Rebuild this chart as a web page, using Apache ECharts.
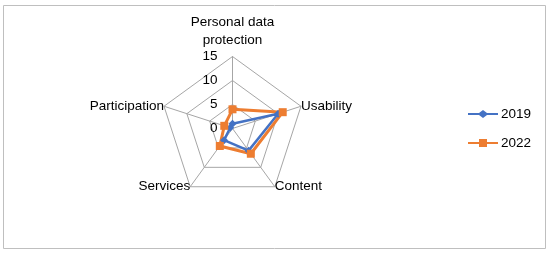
<!DOCTYPE html>
<html>
<head>
<meta charset="utf-8">
<script src="https://cdn.jsdelivr.net/npm/echarts@6/dist/echarts.min.js"></script>
<style>
html,body{margin:0;padding:0;background:#fff;}
#chart{width:550px;height:254px;}
</style>
</head>
<body>
<div id="chart"></div>
<script>
// Categories in clockwise order starting at the top
const indicators = ['Personal data\nprotection', 'Usability', 'Content', 'Services', 'Participation'];
const seriesNames = ['2019', '2022'];
const values2019 = [1, 10, 5.7, 3, 0.5];
const values2022 = [4, 11, 6.5, 4.5, 1.8];
const axisMax = 15;
const tickStep = 5;

const FONT = '"Liberation Sans", Arial, sans-serif';
const BLUE = '#4472C4';
const ORANGE = '#ED7D31';

// ECharts radar runs counter-clockwise; reorder so the categories run clockwise like the reference
const order = [0, 4, 3, 2, 1];
const ord = arr => order.map(i => arr[i]);

const diamondIcon = 'path://M0,3 L11,3 L15,0 L19,3 L30,3 L30,5 L19,5 L15,8 L11,5 L0,5 Z';
const squareIcon = 'path://M0,3 L11,3 L11,0 L19,0 L19,3 L30,3 L30,5 L19,5 L19,8 L11,8 L11,5 L0,5 Z';

const chart = echarts.init(document.getElementById('chart'), null, {renderer: 'canvas'});
chart.setOption({
  animation: false,
  backgroundColor: '#fff',
  graphic: [{
    type: 'rect',
    shape: {x: 3.5, y: 5.5, width: 542, height: 243},
    style: {fill: 'none', stroke: '#BFBFBF', lineWidth: 1},
    silent: true,
    z: -10
  }],
  legend: {
    orient: 'vertical',
    left: 463,
    top: 102,
    itemWidth: 30,
    itemHeight: 8,
    itemGap: 15,
    textStyle: {fontFamily: FONT, fontSize: 13.5, color: '#000', padding: [0, 0, 0, -2]},
    itemStyle: {borderWidth: 0},
    data: [
      {name: seriesNames[0], icon: diamondIcon},
      {name: seriesNames[1], icon: squareIcon}
    ]
  },
  radar: {
    center: [232.5, 128.5],
    radius: 72,
    startAngle: 90,
    shape: 'polygon',
    splitNumber: axisMax / tickStep,
    nameGap: 0,
    axisName: {fontFamily: FONT, fontSize: 13.5, color: '#000', lineHeight: 18},
    axisLine: {lineStyle: {color: '#A6A6A6', width: 1}},
    splitLine: {lineStyle: {color: '#A6A6A6', width: 1}},
    splitArea: {show: false},
    axisTick: {show: false},
    axisLabel: {show: false},
    indicator: ord(indicators).map((n, i) => {
      const o = {name: n, max: axisMax, min: 0};
      if (i === 0) {
        o.axisLabel = {show: true, fontFamily: FONT, fontSize: 13.5, color: '#000', margin: 15, showMinLabel: true, showMaxLabel: true};
      }
      return o;
    })
  },
  series: [{
    type: 'radar',
    data: [
      {
        name: seriesNames[0],
        value: ord(values2019),
        symbol: 'diamond',
        symbolSize: 8,
        lineStyle: {color: BLUE, width: 2.5},
        itemStyle: {color: BLUE}
      },
      {
        name: seriesNames[1],
        value: ord(values2022),
        symbol: 'rect',
        symbolSize: 8,
        lineStyle: {color: ORANGE, width: 3},
        itemStyle: {color: ORANGE}
      }
    ]
  }]
});
</script>
</body>
</html>
